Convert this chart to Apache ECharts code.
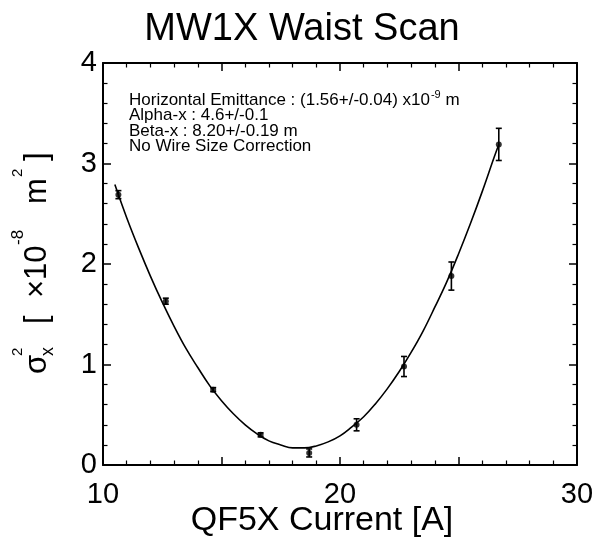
<!DOCTYPE html>
<html>
<head>
<meta charset="utf-8">
<script src="https://cdn.jsdelivr.net/npm/echarts@6/dist/echarts.min.js"></script>
<style>
html,body{margin:0;padding:0;background:#fff;}
#chart{width:607px;height:539px;}
</style>
</head>
<body>
<div id="chart"></div>
<script>
// ---- data ----
const currents = [10.65, 12.65, 14.65, 16.65, 18.7, 20.7, 22.7, 24.7, 26.7];   // QF5X current [A]
const sigma2 = [2.69, 1.63, 0.75, 0.30, 0.12, 0.40, 0.98, 1.88, 3.19];        // sigma_x^2 [1e-8 m^2]
const sigma2Err = [0.04, 0.03, 0.02, 0.02, 0.04, 0.06, 0.10, 0.14, 0.16];

// fitted curve
const fitCurrents = [10.5, 11, 11.5, 12, 12.5, 13, 13.5, 14, 14.5, 15, 15.5, 16, 16.5, 17, 17.5, 18,
  18.5, 19, 19.5, 20, 20.5, 21, 21.5, 22, 22.5, 23, 23.5, 24, 24.5, 25, 25.5, 26, 26.5, 26.7];
const fitSigma2 = [2.79, 2.46, 2.16, 1.88, 1.62, 1.38, 1.16, 0.97, 0.79, 0.64, 0.51, 0.40, 0.31, 0.24, 0.20, 0.17,
  0.17, 0.19, 0.23, 0.29, 0.38, 0.48, 0.61, 0.76, 0.93, 1.12, 1.33, 1.57, 1.82, 2.10, 2.40, 2.72, 3.06, 3.19];

const xTickLabels = ['10', '20', '30'];
const yTickLabels = ['0', '1', '2', '3', '4'];

const titleText = 'MW1X Waist Scan';
const xName = 'QF5X Current [A]';
const notes = [
  'Horizontal Emittance : (1.56+/-0.04) x10',
  'Alpha-x : 4.6+/-0.1',
  'Beta-x : 8.20+/-0.19 m',
  'No Wire Size Correction'
];

const FONT = '"Liberation Sans", Arial, Helvetica, sans-serif';
const NOTE_SIZE = 17;
const chart = echarts.init(document.getElementById('chart'), null, {renderer: 'canvas'});

// measure widths for placing superscripts after text
const mctx = document.createElement('canvas').getContext('2d');
function measure(s, size) { mctx.font = size + 'px ' + FONT; return mctx.measureText(s).width; }

const axisCommon = {
  axisLine: {show: true, onZero: false, lineStyle: {color: '#000', width: 2}},
  axisTick: {show: true, inside: true, length: 8, lineStyle: {color: '#000', width: 1.5}},
  minorTick: {show: true, length: 4.5, lineStyle: {color: '#000', width: 1.2}},
  splitLine: {show: false},
  minorSplitLine: {show: false}
};

const xAxisBase = Object.assign({}, axisCommon, {
  type: 'value', min: 10, max: 30, interval: 5,
  minorTick: Object.assign({}, axisCommon.minorTick, {splitNumber: 5})
});
const yAxisBase = Object.assign({}, axisCommon, {
  type: 'value', min: 0, max: 4, interval: 1,
  minorTick: Object.assign({}, axisCommon.minorTick, {splitNumber: 5})
});

function txt(s, lx, ly, size) {
  return {type: 'text', x: lx, y: ly,
    style: {text: s, fill: '#000', font: size + 'px ' + FONT, align: 'left', verticalAlign: 'middle'}};
}

const noteX = 129, noteY = 100, noteLH = 15.5;
const line0W = measure(notes[0], NOTE_SIZE);
const supW = measure('-9', 11);

const option = {
  backgroundColor: '#fff',
  animation: false,
  grid: {left: 103, right: 30, top: 63, bottom: 74, containLabel: false},
  xAxis: [
    Object.assign({}, xAxisBase, {
      position: 'bottom',
      axisLabel: {
        show: true, color: '#000', fontFamily: FONT, fontSize: 29, margin: 15,
        formatter: function (v) { const s = String(v); return xTickLabels.indexOf(s) >= 0 ? s : ''; }
      }
    }),
    Object.assign({}, xAxisBase, {position: 'top', axisLabel: {show: false}})
  ],
  yAxis: [
    Object.assign({}, yAxisBase, {
      position: 'left',
      axisLabel: {
        show: true, color: '#000', fontFamily: FONT, fontSize: 29, margin: 6,
        formatter: function (v) { const s = String(v); return yTickLabels.indexOf(s) >= 0 ? s : ''; }
      }
    }),
    Object.assign({}, yAxisBase, {position: 'right', axisLabel: {show: false}})
  ],
  series: [
    {
      type: 'line',
      data: fitCurrents.map((x, i) => [x, fitSigma2[i]]),
      smooth: 0.4,
      showSymbol: false,
      symbol: 'none',
      lineStyle: {color: '#000', width: 1.6},
      silent: true,
      z: 2
    },
    {
      type: 'custom',
      data: currents.map((x, i) => [x, sigma2[i], sigma2Err[i]]),
      renderItem: function (params, api) {
        const x = api.value(0), y = api.value(1), e = api.value(2);
        const top = api.coord([x, y + e]);
        const bot = api.coord([x, y - e]);
        const w = 3;
        const st = {stroke: '#000', lineWidth: 1.6};
        return {
          type: 'group',
          children: [
            {type: 'line', shape: {x1: top[0], y1: top[1], x2: bot[0], y2: bot[1]}, style: st},
            {type: 'line', shape: {x1: top[0] - w, y1: top[1], x2: top[0] + w, y2: top[1]}, style: st},
            {type: 'line', shape: {x1: bot[0] - w, y1: bot[1], x2: bot[0] + w, y2: bot[1]}, style: st}
          ]
        };
      },
      z: 3
    },
    {
      type: 'scatter',
      data: currents.map((x, i) => [x, sigma2[i]]),
      symbol: 'circle',
      symbolSize: 6,
      itemStyle: {color: '#000'},
      z: 4
    }
  ],
  graphic: [
    {
      type: 'text', x: 302, y: 30,
      style: {text: titleText, fill: '#000', font: '38px ' + FONT, align: 'center', verticalAlign: 'middle'}
    },
    {
      type: 'text', x: 322, y: 521,
      style: {text: xName, fill: '#000', font: '34px ' + FONT, align: 'center', verticalAlign: 'middle'}
    },
    {
      // y-axis title, rotated; children are laid out along the reading direction
      type: 'group', x: 47, y: 374, rotation: Math.PI / 2,
      children: [
        txt('σ', 0, -10, 31),
        txt('x', 18, 1, 18),
        txt('2', 18, -29, 15),
        txt('[', 50, -10, 31),
        txt('×10', 76, -10, 31),
        txt('-8', 129, -29, 17),
        txt('m', 170, -10, 31),
        txt('2', 197, -29, 15),
        txt(']', 213, -10, 31)
      ]
    },
    {
      type: 'group', x: noteX, y: noteY,
      children: [
        txt(notes[0], 0, 0, NOTE_SIZE),
        txt('-9', line0W + 1, -5, 11),
        txt(' m', line0W + supW + 1, 0, NOTE_SIZE),
        txt(notes[1], 0, noteLH, NOTE_SIZE),
        txt(notes[2], 0, noteLH * 2, NOTE_SIZE),
        txt(notes[3], 0, noteLH * 3, NOTE_SIZE)
      ]
    }
  ]
};
chart.setOption(option);
</script>
</body>
</html>
